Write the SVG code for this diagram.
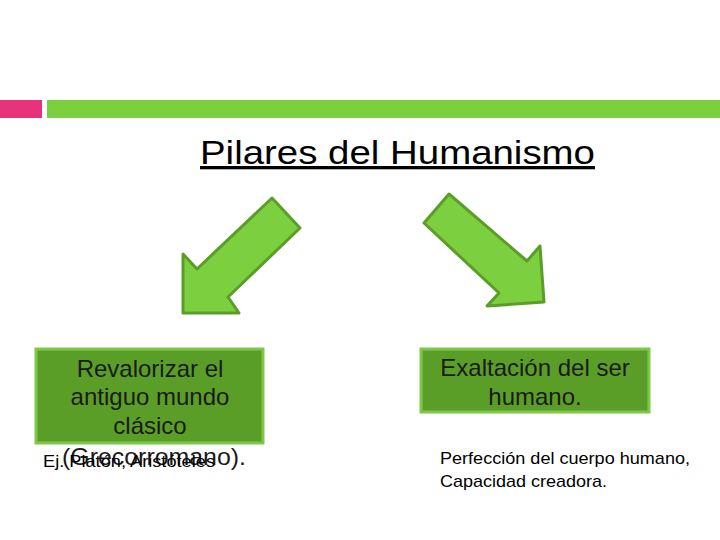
<svg xmlns="http://www.w3.org/2000/svg" width="720" height="540" viewBox="0 0 720 540">
<style>
text{font-family:"Liberation Sans",Arial,sans-serif;}
.box{fill:#5a9e28;stroke:#7cc94a;stroke-width:3;}
.arr{fill:#7ccf3e;stroke:#5a9e28;stroke-width:3;stroke-linejoin:round;}
.bt{font-size:24px;fill:#1a1a1a;text-anchor:middle;}
.sm{font-size:17px;fill:#000;}
</style>
<rect width="720" height="540" fill="#fff"/>
<rect x="0" y="100" width="42" height="18" fill="#e8327a"/>
<rect x="47" y="100" width="673" height="18" fill="#7ccf3e"/>
<text x="200" y="164" font-size="33" fill="#000" text-decoration="underline" textLength="395" lengthAdjust="spacingAndGlyphs">Pilares del Humanismo</text>
<g id="connectors">
<polygon class="arr" points="272,198 300,228 228,297 239,313 183,313 183,254 197,269"/>
<polygon class="arr" points="449,194 527,261 540,246 544,302 487,306 499,293 424,223"/>
</g>
<g id="n1">
<rect class="box" x="36" y="349" width="227" height="94"/>
<text class="bt" x="150" y="377">Revalorizar el</text>
<text class="bt" x="150" y="405">antiguo mundo</text>
<text class="bt" x="150" y="434">clásico</text>
</g>
<g id="n2">
<text x="62" y="465" font-size="24" fill="#1a1a1a" textLength="184" lengthAdjust="spacingAndGlyphs">(Grecorromano).</text>
<text class="sm" x="43" y="467" textLength="172" lengthAdjust="spacingAndGlyphs">Ej. Platón, Aristóteles</text>
</g>
<g id="n3">
<rect class="box" x="421" y="349" width="228" height="63"/>
<text class="bt" x="535" y="376">Exaltación del ser</text>
<text class="bt" x="535" y="405">humano.</text>
</g>
<g id="n4">
<text class="sm" x="440" y="464" textLength="250" lengthAdjust="spacingAndGlyphs">Perfección del cuerpo humano,</text>
<text class="sm" x="440" y="487" textLength="167" lengthAdjust="spacingAndGlyphs">Capacidad creadora.</text>
</g>
</svg>
